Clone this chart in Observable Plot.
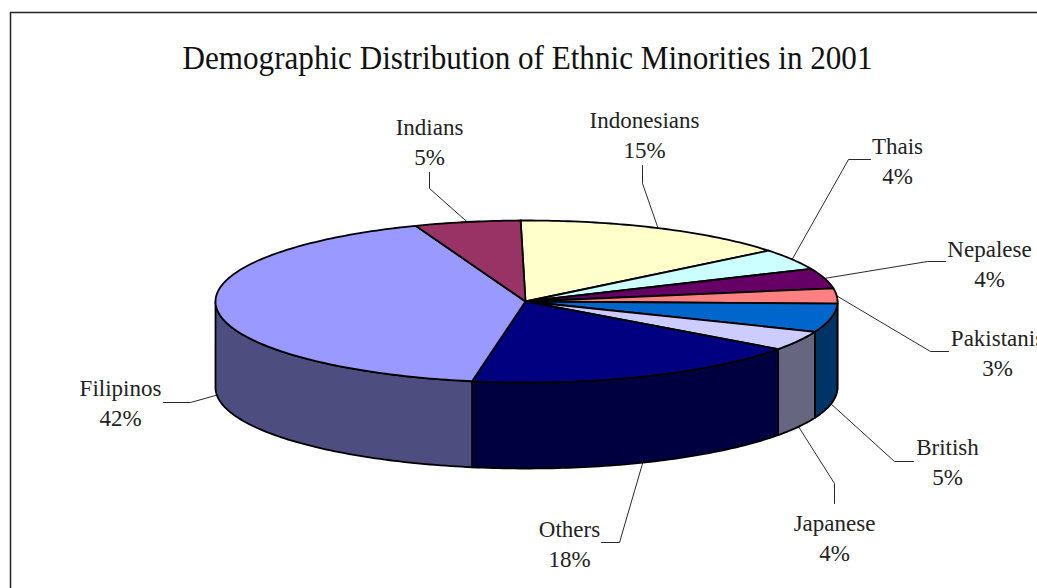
<!DOCTYPE html>
<html>
<head>
<meta charset="utf-8">
<script src="https://cdn.jsdelivr.net/npm/d3@7"></script>
<script src="https://cdn.jsdelivr.net/npm/@observablehq/plot@0.6"></script>
<style>html,body{margin:0;padding:0;background:#fff;overflow:hidden}svg{display:block}</style>
</head>
<body>
<div id="chart"></div>
<script>
const titleText = "Demographic Distribution of Ethnic Minorities in 2001";
const names = ["Indonesians","Thais","Nepalese","Pakistanis","British","Japanese","Others","Filipinos","Indians"];
const shares = [14.5,4.2,4.0,3.0,5.7,3.9,17.8,41.4,5.5];
const percentLabels = ["15%","4%","4%","3%","5%","4%","18%","42%","5%"];
const topColors = ["#FFFFCC","#CCFFFF","#660066","#FF8080","#0066CC","#CCCCFF","#000080","#9999FF","#993366"];
const sideColors = ["#808066","#668080","#330033","#804040","#003366","#666680","#000040","#4D4D80","#4D1A33"];

// layout
const pie = {cx:526, cy:301, rx:311, ry:81, depth:86, startShare:-0.3};
const labelX = [644,897,989,997,947,834,569,120,429];
const labelY = [133,159,262,351,460,536,542,401,140];
const elbows = [
  [[642,165],[642,183]],
  [[870,159],[848,159]],
  [[945,261],[927,261]],
  [[948,351],[930,351]],
  [[913,461],[894,461]],
  [[834,503],[834,483]],
  [[601,542],[619,542]],
  [[163,402],[190,402]],
  [[429,172],[429,188]]
];

const toAngle = s => (s + pie.startShare) / 100 * 2 * Math.PI;
const rim = (a, drop = 0) => ({x: pie.cx + pie.rx * Math.sin(a), y: pie.cy - pie.ry * Math.cos(a) + drop});

let cum = 0;
const slices = names.map((name, i) => {
  const a0 = toAngle(cum); cum += shares[i]; const a1 = toAngle(cum);
  return {name, a0, a1, mid: (a0 + a1) / 2, i};
});

const arc = (a0, a1, drop = 0) => {
  const n = Math.max(2, Math.ceil((a1 - a0) / (Math.PI / 180)));
  return d3.range(n + 1).map(k => rim(a0 + (a1 - a0) * k / n, drop));
};

const topPoints = slices.flatMap(s => {
  const pts = [{x: pie.cx - 1, y: pie.cy}, ...arc(s.a0, s.a1), {x: pie.cx - 1, y: pie.cy}];
  return pts.map(p => ({...p, key: s.name}));
});

const sidePoints = slices.flatMap(s => {
  const lo = Math.max(s.a0, Math.PI / 2), hi = Math.min(s.a1, 3 * Math.PI / 2);
  if (hi <= lo) return [];
  const upper = arc(lo, hi), lower = arc(lo, hi, pie.depth).reverse();
  return [...upper, ...lower, upper[0]].map(p => ({...p, key: s.name + " side"}));
});

const leaders = slices.flatMap(s => {
  const front = s.mid > Math.PI / 2 && s.mid < 3 * Math.PI / 2;
  const anchor = rim(s.mid, front ? pie.depth : 0);
  return [...elbows[s.i].map(([x, y]) => ({x, y})), anchor].map(p => ({...p, key: s.name}));
});

const labels = names.map((n, i) => ({x: labelX[i], y: labelY[i], text: n + "\n" + percentLabels[i]}));

const chart = Plot.plot({
  width: 1037, height: 588, margin: 0,
  style: {fontFamily: "'Liberation Serif', serif", background: "#fff", color: "#000"},
  x: {axis: null, domain: [0, 1037], range: [0, 1037]},
  y: {axis: null, domain: [0, 588], range: [0, 588]},
  color: {domain: [...names, ...names.map(n => n + " side")], range: [...topColors, ...sideColors]},
  marks: [
    Plot.ruleX([10], {y1: 12, y2: 588, stroke: "#222", strokeWidth: 1.5}),
    Plot.ruleY([12], {x1: 10, x2: 1037, stroke: "#222", strokeWidth: 1.5}),
    Plot.text([titleText], {x: 527, y: 58, text: d => d, fontSize: 34, fill: "#111", textAnchor: "middle", className: "chart-title"}),
    Plot.line(leaders, {x: "x", y: "y", z: "key", stroke: "#111", strokeWidth: 0.9, curve: "linear"}),
    Plot.line(sidePoints, {x: "x", y: "y", fill: "key", stroke: "#000", strokeWidth: 1.8, curve: "linear"}),
    Plot.line(topPoints, {x: "x", y: "y", fill: "key", stroke: "#000", strokeWidth: 1.8, curve: "linear"}),
    Plot.text(labels, {x: "x", y: "y", text: "text", fontSize: 23, lineHeight: 1.29, fill: "#222", textAnchor: "middle", lineAnchor: "middle"})
  ]
});
document.getElementById("chart").appendChild(chart);
// the reference title is set in a narrower face: condense the real text to its measured width
chart.querySelectorAll(".chart-title text").forEach(t => {
  t.setAttribute("textLength", 690);
  t.setAttribute("lengthAdjust", "spacingAndGlyphs");
});
</script>
</body>
</html>
